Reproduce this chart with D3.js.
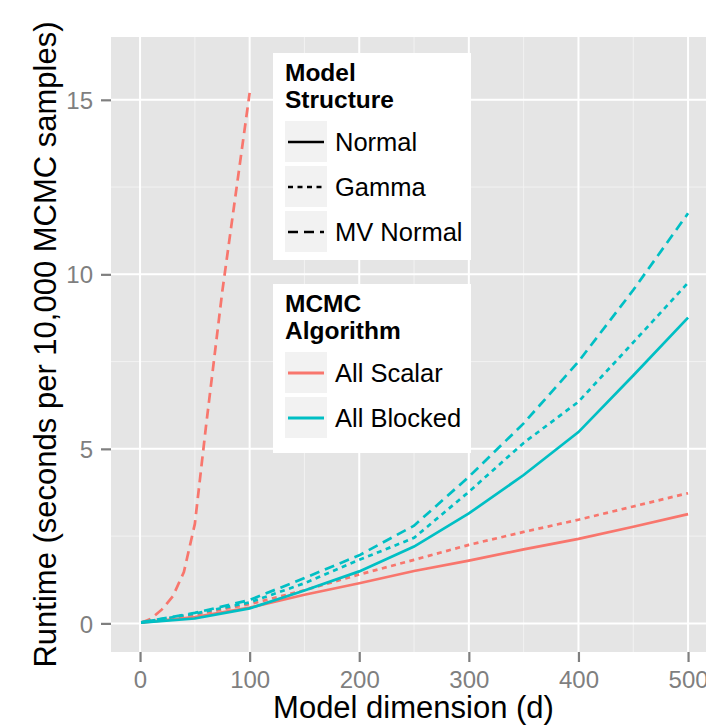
<!DOCTYPE html>
<html>
<head>
<meta charset="utf-8">
<script src="https://cdn.jsdelivr.net/npm/d3@7"></script>
<style>
  body { margin: 0; background: #fff; }
  text { font-family: "Liberation Sans", Arial, sans-serif; }
</style>
</head>
<body>
<div id="chart"></div>
<script>
// dimensions of the model (x) for the main runs
const dims = [1, 50, 100, 150, 200, 250, 300, 350, 400, 450, 500];
// the scalar MV normal run only goes to d = 100
const dimsScalarMV = [1, 10, 20, 30, 40, 50, 60, 75, 100];

// runtime, seconds per 10,000 MCMC samples
const scalarNormal = [0.02, 0.18, 0.45, 0.82, 1.15, 1.5, 1.8, 2.12, 2.42, 2.77, 3.13];
const scalarGamma = [0.03, 0.25, 0.55, 0.95, 1.4, 1.82, 2.25, 2.62, 2.97, 3.35, 3.73];
const scalarMVNormal = [0.02, 0.13, 0.4, 0.78, 1.47, 2.85, 5.6, 9.5, 15.2];
const blockedNormal = [0.02, 0.14, 0.43, 0.94, 1.49, 2.2, 3.15, 4.25, 5.48, 7.1, 8.76];
const blockedGamma = [0.03, 0.28, 0.6, 1.15, 1.82, 2.45, 3.77, 5.17, 6.35, 8.05, 9.76];
const blockedMVNormal = [0.03, 0.3, 0.67, 1.3, 1.95, 2.8, 4.2, 5.73, 7.5, 9.55, 11.75];

const structures = ["Normal", "Gamma", "MV Normal"];
const algorithms = ["All Scalar", "All Blocked"];
const xTicks = [0, 100, 200, 300, 400, 500];
const yTicks = [0, 5, 10, 15];

const series = [
  { algo: "All Scalar", structure: "Normal", x: dims, y: scalarNormal },
  { algo: "All Scalar", structure: "Gamma", x: dims, y: scalarGamma },
  { algo: "All Scalar", structure: "MV Normal", x: dimsScalarMV, y: scalarMVNormal },
  { algo: "All Blocked", structure: "Normal", x: dims, y: blockedNormal },
  { algo: "All Blocked", structure: "Gamma", x: dims, y: blockedGamma },
  { algo: "All Blocked", structure: "MV Normal", x: dims, y: blockedMVNormal }
];

const width = 706, height = 725;
const panel = { left: 111, right: 716, top: 37, bottom: 652 };

const color = d3.scaleOrdinal().domain(algorithms).range(["#F8766D", "#00BFC4"]);
const dash = d3.scaleOrdinal().domain(structures).range([null, "5,4.5", "10,6"]);

const svg = d3.select("#chart").append("svg")
  .attr("width", width)
  .attr("height", height);

svg.append("rect").attr("width", width).attr("height", height).attr("fill", "#fff");

const x = d3.scaleLinear().domain([-26.5, 525.5]).range([panel.left, panel.right]);
const y = d3.scaleLinear().domain([-0.82, 16.8]).range([panel.bottom, panel.top]);

// panel background
svg.append("rect")
  .attr("x", panel.left).attr("y", panel.top)
  .attr("width", panel.right - panel.left)
  .attr("height", panel.bottom - panel.top)
  .attr("fill", "#E5E5E5");

// minor grid
const xMinor = [50, 150, 250, 350, 450];
const yMinor = [2.5, 7.5, 12.5];
svg.append("g").selectAll("line").data(xMinor).join("line")
  .attr("x1", d => x(d)).attr("x2", d => x(d))
  .attr("y1", panel.top).attr("y2", panel.bottom)
  .attr("stroke", "#F2F2F2").attr("stroke-width", 1);
svg.append("g").selectAll("line").data(yMinor).join("line")
  .attr("x1", panel.left).attr("x2", panel.right)
  .attr("y1", d => y(d)).attr("y2", d => y(d))
  .attr("stroke", "#F2F2F2").attr("stroke-width", 1);

// major grid
svg.append("g").selectAll("line").data(xTicks).join("line")
  .attr("x1", d => x(d)).attr("x2", d => x(d))
  .attr("y1", panel.top).attr("y2", panel.bottom)
  .attr("stroke", "#fff").attr("stroke-width", 2);
svg.append("g").selectAll("line").data(yTicks).join("line")
  .attr("x1", panel.left).attr("x2", panel.right)
  .attr("y1", d => y(d)).attr("y2", d => y(d))
  .attr("stroke", "#fff").attr("stroke-width", 2);

// axes
const xAxis = svg.append("g")
  .attr("transform", `translate(0,${panel.bottom})`)
  .call(d3.axisBottom(x).tickValues(xTicks).tickSize(10).tickPadding(9).tickFormat(d3.format("d")));
const yAxis = svg.append("g")
  .attr("transform", `translate(${panel.left},0)`)
  .call(d3.axisLeft(y).tickValues(yTicks).tickSize(10).tickPadding(8));

[xAxis, yAxis].forEach(ax => {
  ax.select(".domain").remove();
  ax.selectAll(".tick line").attr("stroke", "#7F7F7F").attr("stroke-width", 2.2);
  ax.selectAll(".tick text")
    .attr("fill", "#7F7F7F")
    .style("font-size", "24px")
    .style("font-family", "'Liberation Sans', Arial, sans-serif");
});
yAxis.selectAll(".tick text").attr("dy", "0.36em");

// lines
const line = d3.line()
  .x(d => x(d[0]))
  .y(d => y(d[1]));

svg.append("g").selectAll("path").data(series).join("path")
  .attr("d", s => line(s.x.map((v, i) => [v, s.y[i]])))
  .attr("fill", "none")
  .attr("stroke", s => color(s.algo))
  .attr("stroke-width", 2.7)
  .attr("stroke-dasharray", s => dash(s.structure));

// axis titles
svg.append("text")
  .attr("x", (panel.left + panel.right) / 2)
  .attr("y", 718)
  .attr("text-anchor", "middle")
  .style("font-size", "31px")
  .text("Model dimension (d)");

svg.append("text")
  .attr("transform", `translate(56,${(panel.top + panel.bottom) / 2}) rotate(-90)`)
  .attr("text-anchor", "middle")
  .style("font-size", "31px")
  .text("Runtime (seconds per 10,000 MCMC samples)");

// legends
function legend(top, boxH, title, items, keyFn) {
  const g = svg.append("g").attr("transform", `translate(273,${top})`);
  g.append("rect").attr("width", 198).attr("height", boxH).attr("fill", "#fff");
  g.append("text")
    .attr("x", 12).attr("y", 28)
    .style("font-size", "24.5px").style("font-weight", "bold")
    .selectAll("tspan").data(title).join("tspan")
    .attr("x", 12).attr("dy", (d, i) => i ? 27 : 0)
    .text(d => d);
  const rows = g.selectAll(".row").data(items).join("g")
    .attr("transform", (d, i) => `translate(12,${68 + i * 45})`);
  rows.append("rect").attr("width", 42).attr("height", 41).attr("fill", "#F2F2F2");
  rows.append("line")
    .attr("x1", 3).attr("x2", 39).attr("y1", 21).attr("y2", 21)
    .each(function (d) { keyFn(d3.select(this), d); });
  rows.append("text")
    .attr("x", 50).attr("y", 30)
    .style("font-size", "25.5px")
    .text(d => d);
}

legend(53, 207, ["Model", "Structure"], structures, (sel, d) => {
  sel.attr("stroke", "#000").attr("stroke-width", 2.4).attr("stroke-dasharray", dash(d));
});
legend(284, 169, ["MCMC", "Algorithm"], algorithms, (sel, d) => {
  sel.attr("stroke", color(d)).attr("stroke-width", 2.8);
});
</script>
</body>
</html>
